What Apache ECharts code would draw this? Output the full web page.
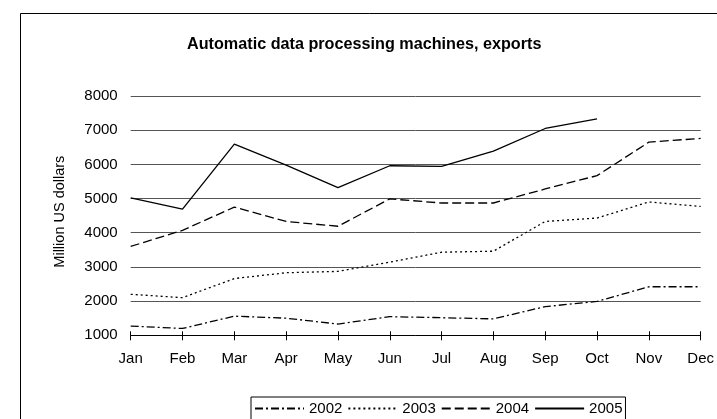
<!DOCTYPE html>
<html><head><meta charset="utf-8">
<script src="https://cdn.jsdelivr.net/npm/echarts@6/dist/echarts.min.js"></script>
<style>html,body{margin:0;padding:0;background:#fff}#c{width:717px;height:419px}</style>
</head><body><div id="c"></div>
<script>
const months = ['Jan','Feb','Mar','Apr','May','Jun','Jul','Aug','Sep','Oct','Nov','Dec'];
const s2002 = [1270,1200,1560,1500,1330,1545,1515,1480,1840,1990,2420,2420];
const s2003 = [2200,2100,2660,2830,2870,3140,3430,3460,4330,4430,4900,4770];
const s2004 = [3600,4070,4750,4330,4190,4990,4870,4870,5280,5670,6650,6760];
const s2005 = [5020,4690,6590,5980,5320,5960,5940,6390,7050,7330,null,null];
const yTicks = {min:1000, max:8000, interval:1000};

const font = 'Liberation Sans, Arial, sans-serif';
const chart = echarts.init(document.getElementById('c'));
function ser(name, data, dash){
  return {name, type:'line', data, symbol:'none', connectNulls:false,
    lineStyle:{color:'#000', width:1.3, type:dash}, itemStyle:{color:'#000'}, animation:false};
}
chart.setOption({
  animation:false,
  textStyle:{fontFamily:font},
  graphic:[{type:'rect', shape:{x:20.5,y:13.5,width:800,height:600}, style:{fill:'none',stroke:'#000',lineWidth:1}, silent:true}],
  title:{text:'Automatic data processing machines, exports', left:182, top:32,
    textStyle:{fontFamily:font, fontSize:16.2, fontWeight:'bold', color:'#000'}},
  grid:{left:130.7, right:12, top:96, bottom:83.7},
  xAxis:[{type:'category', data:months, boundaryGap:false,
    axisLine:{lineStyle:{color:'#000',width:1}},
    axisTick:{show:true, alignWithLabel:true, length:5, lineStyle:{color:'#000'}},
    axisLabel:{color:'#000', fontSize:15, fontFamily:font, margin:16, interval:0},
    splitLine:{show:false}},
   {type:'category', data:months, boundaryGap:false, position:'bottom',
    axisLine:{show:false}, axisLabel:{show:false},
    axisTick:{show:true, inside:true, length:4, lineStyle:{color:'#000'}}, splitLine:{show:false}}],
  yAxis:{type:'value', min:yTicks.min, max:yTicks.max, interval:yTicks.interval,
    name:'Million US dollars', nameLocation:'middle', nameGap:63, nameRotate:90,
    nameTextStyle:{color:'#000', fontSize:14.5, fontFamily:font, align:'center', padding:[0,0,0,8]},
    axisLine:{show:false}, axisTick:{show:false},
    axisLabel:{color:'#000', fontSize:15, fontFamily:font, margin:13, formatter:v=>String(v)},
    splitLine:{lineStyle:{color:'#555', width:1}}},
  legend:{left:251, top:397, orient:'horizontal', itemWidth:49, itemHeight:10, itemGap:5,
    padding:[4,3,4,3], borderColor:'#000', borderWidth:1,
    itemStyle:{color:'rgba(0,0,0,0)', borderColor:'rgba(0,0,0,0)', borderWidth:0},
    textStyle:{color:'#000', fontSize:15, fontFamily:font},
    data:['2002','2003','2004','2005']},
  series:[ser('2002', s2002, [8,3,2,3]), ser('2003', s2003, [2,3]), ser('2004', s2004, [9,4]), ser('2005', s2005, 'solid')]
});
</script></body></html>
